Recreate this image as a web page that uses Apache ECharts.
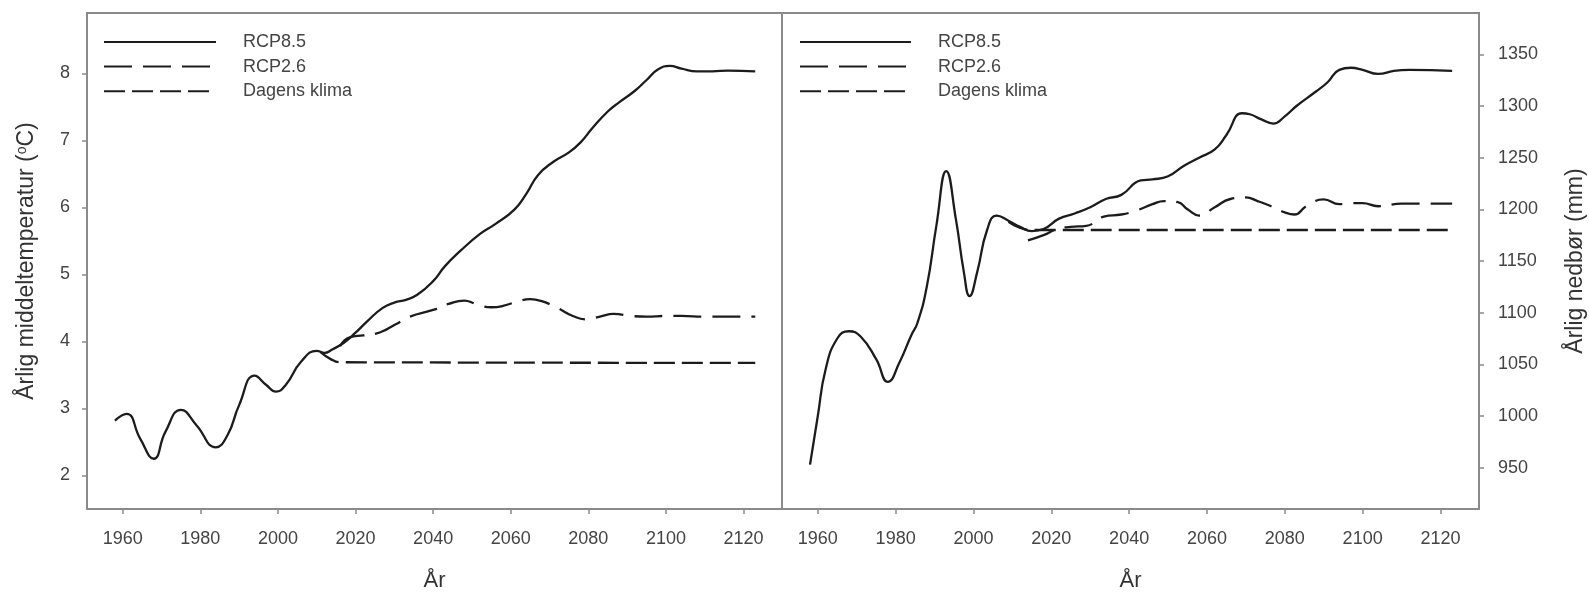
<!DOCTYPE html>
<html>
<head>
<meta charset="utf-8">
<script src="https://cdn.jsdelivr.net/npm/echarts@6/dist/echarts.min.js"></script>
<style>
html,body{margin:0;padding:0;background:#fff;}
#c{width:1589px;height:597px;}
</style>
</head>
<body>
<div id="c"></div>
<script>
// ---- Data ----
const seriesNames = ['RCP8.5', 'RCP2.6', 'Dagens klima'];
const xTicks = [1960, 1980, 2000, 2020, 2040, 2060, 2080, 2100, 2120];
const tempTicks = [2, 3, 4, 5, 6, 7, 8];
const precipTicks = [950, 1000, 1050, 1100, 1150, 1200, 1250, 1300, 1350];

// Left panel: annual mean temperature (°C)
const tempRcp85Years = [1958,1961,1964.5,1968,1971,1975,1979,1984,1987,1990,1994,1997,1999.5,2002,2006,2010,2012,2014,2017,2020,2023,2027,2030,2033,2036,2040,2043,2047,2052,2056,2061,2064,2067,2071,2075,2078,2081,2085,2088,2092,2095,2098,2101,2104,2108,2112,2116,2123];
const tempRcp85 = [2.82,2.92,2.55,2.25,2.65,2.98,2.75,2.42,2.6,3.05,3.49,3.35,3.25,3.35,3.7,3.86,3.83,3.88,3.98,4.13,4.3,4.5,4.58,4.62,4.7,4.9,5.12,5.35,5.6,5.75,5.97,6.2,6.48,6.68,6.82,6.97,7.18,7.43,7.57,7.74,7.9,8.06,8.11,8.07,8.03,8.03,8.04,8.03];
const tempRcp26Years = [2016,2018.5,2022,2025.5,2028,2030.5,2034,2040,2044,2048,2051,2055,2058,2062,2065,2068,2072,2076,2079.5,2083,2086.5,2091,2095,2100,2104,2110,2123];
const tempRcp26 = [3.93,4.06,4.09,4.12,4.18,4.26,4.37,4.47,4.56,4.61,4.56,4.51,4.53,4.6,4.63,4.6,4.5,4.38,4.33,4.37,4.41,4.38,4.37,4.38,4.38,4.37,4.37];
const tempTodayYears = [2011,2013.5,2016,2123];
const tempToday = [3.84,3.74,3.69,3.68];

// Right panel: annual precipitation (mm)
const precRcp85Years = [1958,1960,1962,1965,1968,1971,1975,1978,1981,1984,1985.6,1988,1990.5,1993,1995.5,1997.5,1999,2001,2003.5,2006,2009,2012,2015,2018,2022,2026,2030,2034,2038,2043,2046,2050,2054,2058,2062,2065,2069,2071,2074,2077,2080,2083,2088,2091,2094,2097,2100,2104,2108,2112,2123];
const precRcp85 = [953,1000,1045,1075,1082,1077,1055,1033,1052,1078,1090,1125,1185,1237,1190,1140,1116,1140,1180,1194,1189,1183,1179,1181,1191,1196,1202,1210,1214,1228,1229,1232,1242,1250,1258,1272,1293,1292,1287,1283,1290,1300,1314,1323,1335,1337,1335,1331,1334,1335,1334];
const precRcp26Years = [2014,2018,2021.5,2025,2029,2033.5,2038,2042,2046,2049,2052.5,2055,2058,2062,2066,2070,2073,2076.5,2080,2082.5,2085.5,2090,2094,2097,2100,2104,2110,2123];
const precRcp26 = [1170,1175,1181,1183,1184,1193,1195,1199,1205,1208,1207,1200,1194,1202,1210,1211.5,1208,1203,1197,1195,1203,1209.6,1205,1206,1206,1203,1205.5,1205.5];
const precTodayYears = [2009,2012,2015,2123];
const precToday = [1188,1182,1180,1180];

// ---- helpers ----
const zip = (xs, ys) => xs.map((x, i) => [x, ys[i]]);
const FONT = '"Liberation Sans", Arial, sans-serif';
const FRAME = '#8a8a8a';
const INK = '#1c1c1c';
const LW = 2.3;
const dashStyles = {
  'RCP8.5': 'solid',
  'RCP2.6': [28, 11],
  'Dagens klima': [21, 7]
};

function lineSeries(name, data, idx) {
  return {
    name: name, type: 'line', data: data,
    xAxisIndex: idx, yAxisIndex: idx,
    smooth: 0.5, symbol: 'circle', showSymbol: false,
    lineStyle: { color: INK, width: LW, type: dashStyles[name] },
    itemStyle: { color: INK },
    emphasis: { disabled: true },
    animation: false
  };
}

function xAxis(gridIndex) {
  return {
    type: 'value', gridIndex: gridIndex,
    min: 1950.8, max: 2129.9,
    name: 'År', nameLocation: 'middle', nameGap: 61,
    nameTextStyle: { fontFamily: FONT, fontSize: 22, color: '#333' },
    axisLine: { show: false },
    splitLine: { show: false },
    axisTick: { show: true, inside: false, length: 5, customValues: xTicks, lineStyle: { color: FRAME, width: 1.5 } },
    axisLabel: { customValues: xTicks, margin: 21, fontFamily: FONT, fontSize: 18, color: '#444', formatter: v => String(v) }
  };
}

function legend(left, width) {
  return {
    data: seriesNames, orient: 'vertical', left: left, top: 33, padding: 0,
    itemWidth: width, itemHeight: 14, itemGap: 6.6,
    selectedMode: false,
    itemStyle: { opacity: 0 },
    textStyle: { fontFamily: FONT, fontSize: 18, color: '#444', padding: [0, 0, 0, 22] }
  };
}

const chart = echarts.init(document.getElementById('c'), null, { renderer: 'canvas' });
chart.setOption({
  backgroundColor: '#fff',
  animation: false,
  grid: [
    { left: 87, top: 13, width: 695, height: 502, show: true, borderColor: FRAME, borderWidth: 2, backgroundColor: 'transparent' },
    { left: 782, top: 13, width: 697, height: 502, show: true, borderColor: FRAME, borderWidth: 2, backgroundColor: 'transparent' }
  ],
  legend: [legend(103, 112), legend(799, 111)],
  xAxis: [xAxis(0), xAxis(1)],
  yAxis: [
    {
      type: 'value', gridIndex: 0, min: 1.5, max: 8.9, position: 'left',
      name: 'Årlig middeltemperatur ({sup|o}C)', nameLocation: 'middle', nameGap: 48,
      nameTextStyle: { fontFamily: FONT, fontSize: 23, color: '#333',
        rich: { sup: { fontFamily: FONT, fontSize: 14, color: '#333', verticalAlign: 'top', padding: [0, 0, 10, 0] } } },
      axisLine: { show: false }, splitLine: { show: false },
      axisTick: { show: true, inside: false, length: 5, customValues: tempTicks, lineStyle: { color: FRAME, width: 1.5 } },
      axisLabel: { customValues: tempTicks, margin: 17, fontFamily: FONT, fontSize: 18, color: '#444', formatter: v => String(v) }
    },
    {
      type: 'value', gridIndex: 1, min: 910, max: 1390, position: 'right',
      name: 'Årlig nedbør (mm)', nameLocation: 'middle', nameGap: 85, nameRotate: 90,
      nameTextStyle: { fontFamily: FONT, fontSize: 23, color: '#333' },
      axisLine: { show: false }, splitLine: { show: false },
      axisTick: { show: true, inside: false, length: 5, customValues: precipTicks, lineStyle: { color: FRAME, width: 1.5 } },
      axisLabel: { customValues: precipTicks, margin: 19, fontFamily: FONT, fontSize: 18, color: '#444', formatter: v => String(v) }
    }
  ],
  series: [
    lineSeries('RCP8.5', zip(tempRcp85Years, tempRcp85), 0),
    lineSeries('RCP2.6', zip(tempRcp26Years, tempRcp26), 0),
    lineSeries('Dagens klima', zip(tempTodayYears, tempToday), 0),
    lineSeries('RCP8.5', zip(precRcp85Years, precRcp85), 1),
    lineSeries('RCP2.6', zip(precRcp26Years, precRcp26), 1),
    lineSeries('Dagens klima', zip(precTodayYears, precToday), 1)
  ]
});
</script>
</body>
</html>
